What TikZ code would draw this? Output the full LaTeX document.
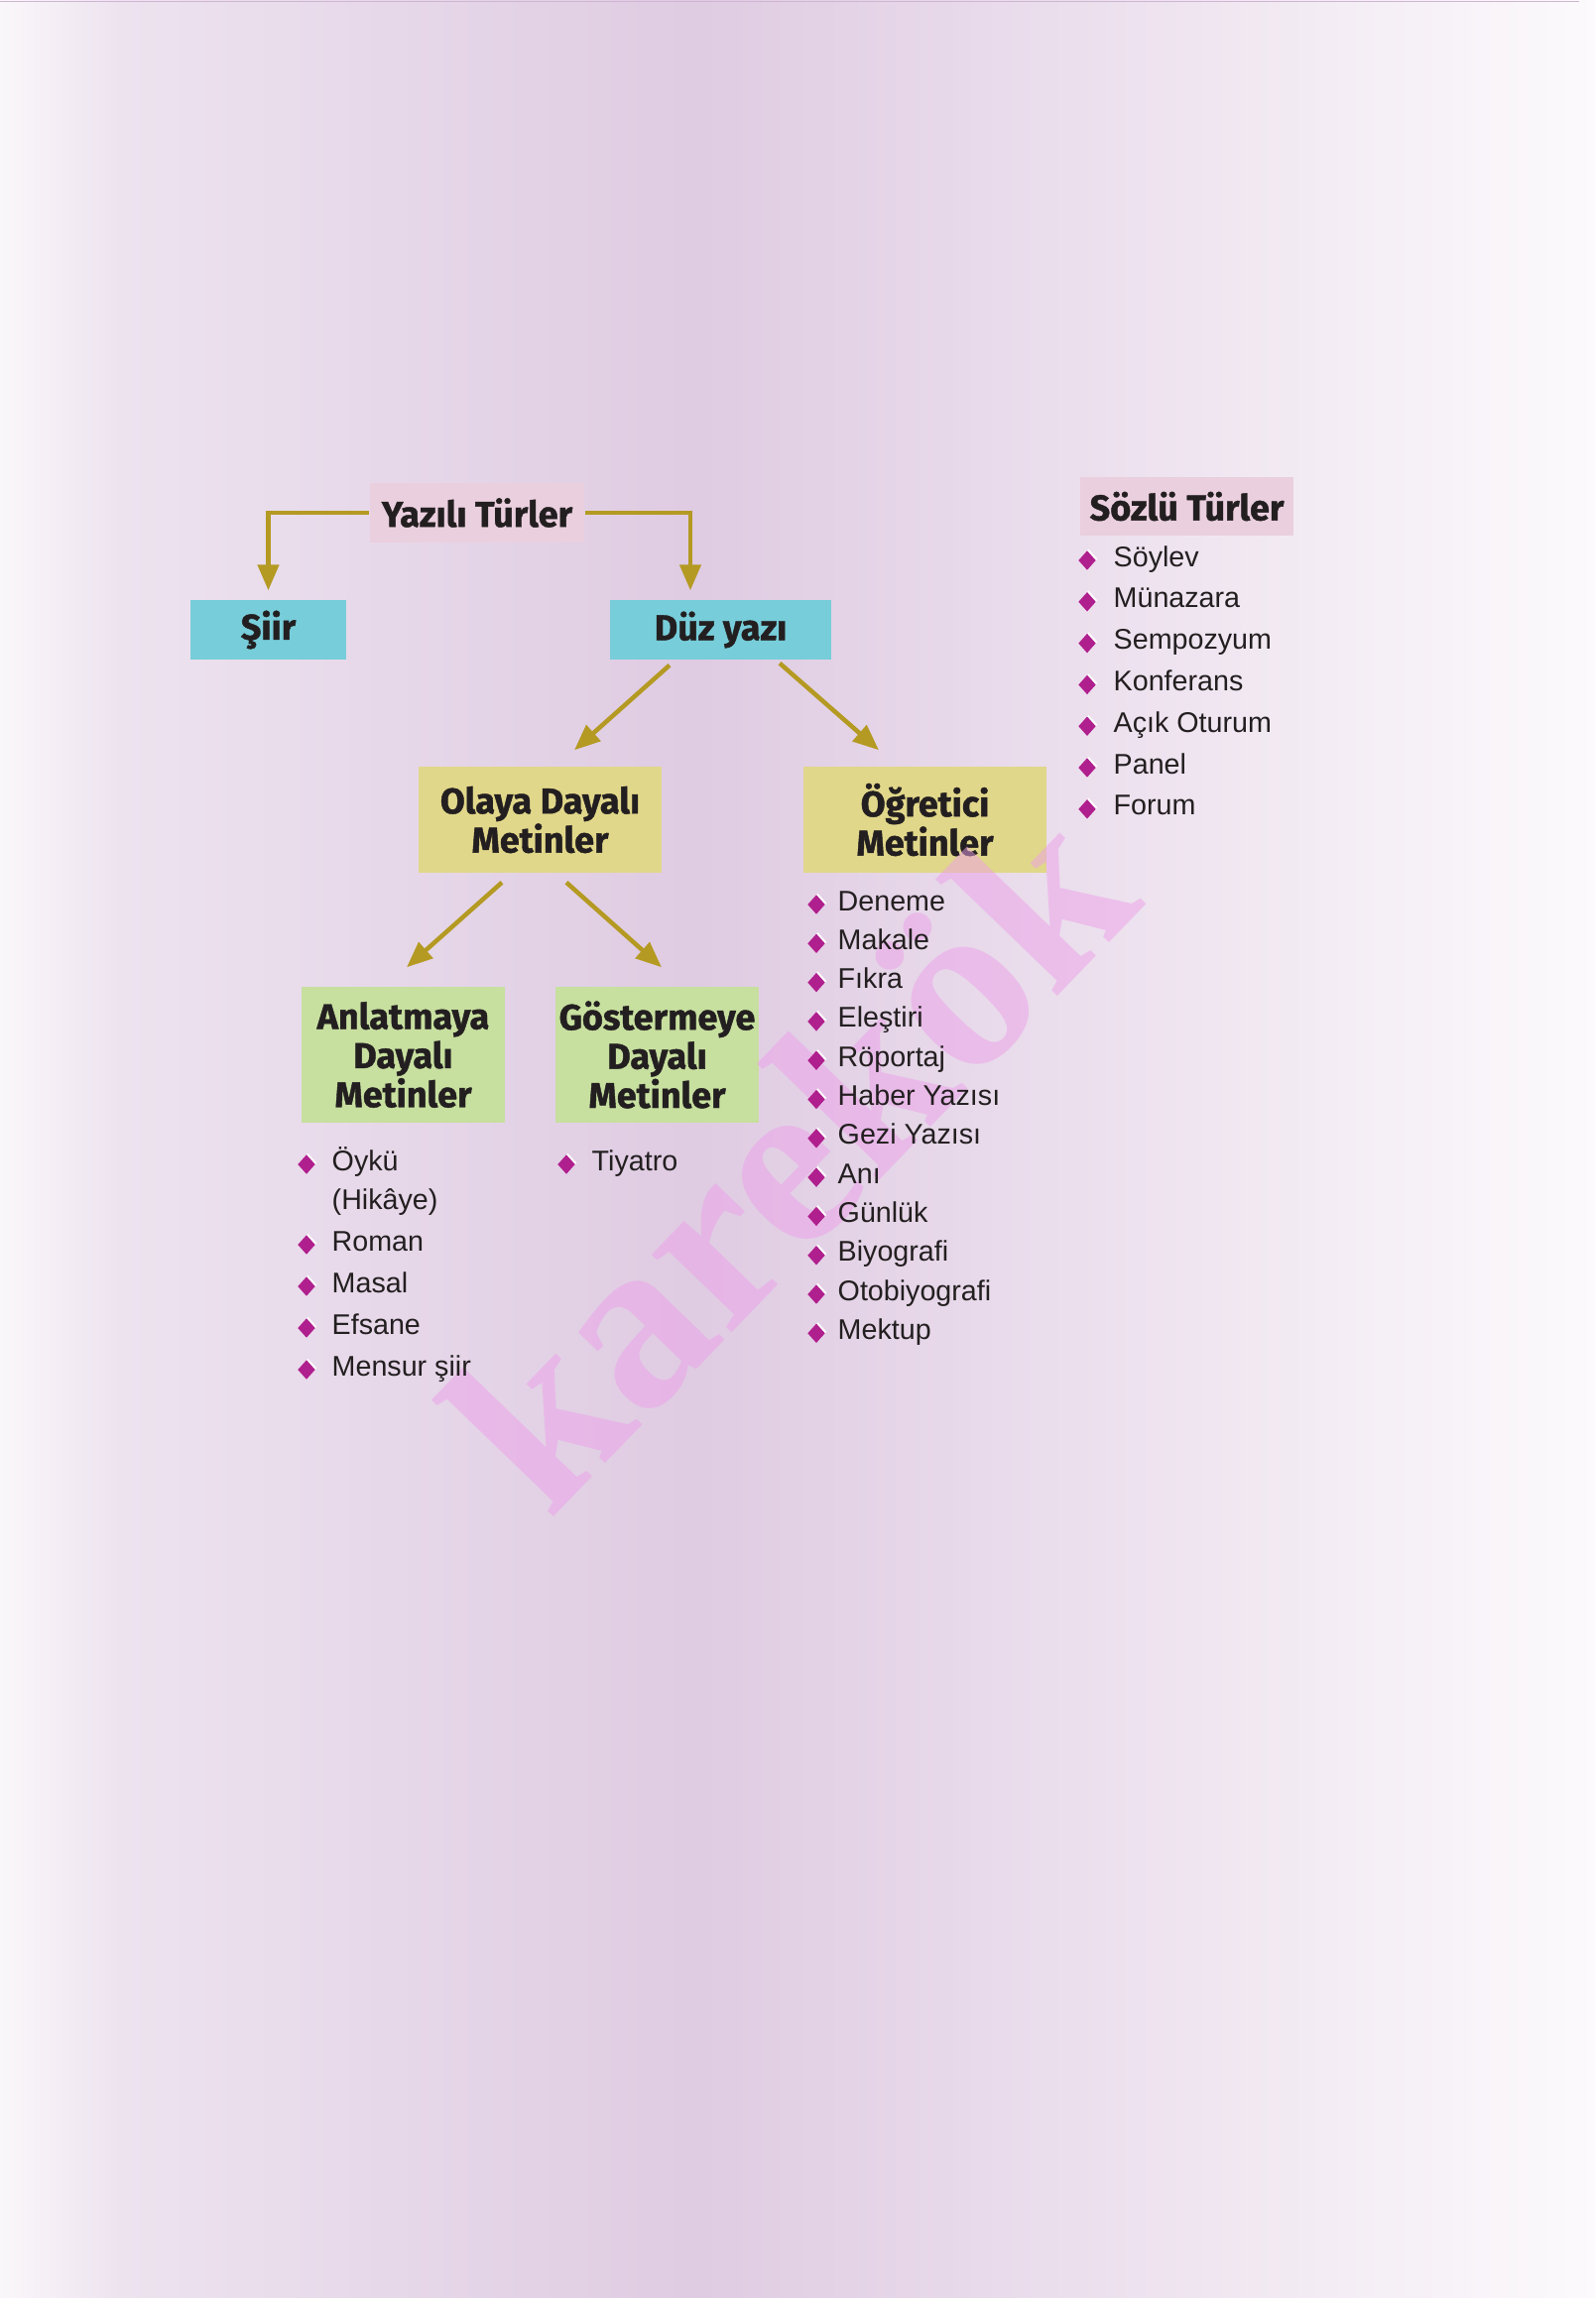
\documentclass[tikz,border=0pt]{standalone}
\usepackage{fontspec}
\setmainfont{Liberation Sans}
\newfontfamily\headfont[BoldFeatures={FakeBold=1.2}]{Fira Sans}
\newfontfamily\markfont{Liberation Serif}
\usetikzlibrary{shapes.geometric,arrows.meta}

\definecolor{arrowgold}{RGB}{180,154,34}
\definecolor{boxpink}{RGB}{234,207,222}
\definecolor{boxcyan}{RGB}{119,205,217}
\definecolor{boxyellow}{RGB}{225,215,138}
\definecolor{boxgreen}{RGB}{199,223,159}
\definecolor{dotpurple}{RGB}{176,31,142}
\definecolor{inkblack}{RGB}{35,31,32}
\definecolor{bgedge}{RGB}{250,247,250}
\definecolor{bgsoft}{RGB}{237,227,239}
\definecolor{bgmid}{RGB}{223,203,226}
\definecolor{bgright}{RGB}{252,250,252}
\definecolor{topline}{RGB}{208,180,212}
\definecolor{markpink}{RGB}{236,160,233}

% one list line: name, diamond x, text x, baseline, text
\newcommand{\listentry}[5]{%
  \node[dotmark, fill=white] (#1-h) at (#2+1.5,#4-7.5) {};
  \node[dotmark] (#1) at (#2,#4-6) {};
  \node[listtext] (#1-t) at (#3,#4) {#5};}

\begin{document}
\begin{tikzpicture}[x=0.01cm, y=-0.01cm, >={Triangle[length=0.26cm,width=0.21cm]},
    headbox/.style={inner sep=0pt, align=center, text=inkblack, font=\headfont\bfseries\fontsize{10.25}{11.2}\selectfont},
    link/.style={draw=arrowgold, line width=0.045cm, ->},
    dotmark/.style={diamond, fill=dotpurple, inner sep=0pt, minimum width=0.18cm, minimum height=0.2cm},
    listtext/.style={anchor=base west, inner sep=0pt, text=inkblack, font=\fontsize{8.15}{9.8}\selectfont},
    watermark/.style={inner sep=0pt, text=markpink, text opacity=0.5, font=\markfont\bfseries\fontsize{69.7}{70}\selectfont}]
    \useasboundingbox (0,0) rectangle (1608,2317);
    \shade[left color=bgedge, right color=bgsoft] (0,0) rectangle (121,2317); % page shading
    \shade[left color=bgsoft, right color=bgmid] (120,0) rectangle (701,2317);
    \shade[left color=bgmid, right color=bgright] (700,0) rectangle (1608,2317);
    \draw[topline, line width=0.015cm] (0,1.5) -- (1592,1.5); % top rule

    \node[headbox, fill=boxpink, minimum width=2.16cm, minimum height=0.59cm] (yazili) at (481,517) {Yazılı Türler};
    \node[headbox, fill=boxcyan, minimum width=1.57cm, minimum height=0.6cm] (siir) at (270.5,635) {Şiir};
    \node[headbox, fill=boxcyan, minimum width=2.23cm, minimum height=0.6cm] (duz) at (726.5,635) {Düz yazı};
    \node[headbox, fill=boxyellow, minimum width=2.45cm, minimum height=1.07cm] (olaya) at (544.5,826.5) {Olaya Dayalı\\Metinler};
    \node[headbox, fill=boxyellow, minimum width=2.45cm, minimum height=1.07cm] (ogretici) at (932.5,826.5) {Öğretici\\Metinler};
    \node[headbox, fill=boxgreen, minimum width=2.05cm, minimum height=1.37cm] (anlatma) at (406.5,1063.5) {Anlatmaya\\Dayalı\\Metinler};
    \node[headbox, fill=boxgreen, minimum width=2.05cm, minimum height=1.37cm] (gosterme) at (662.5,1063.5) {Göstermeye\\Dayalı\\Metinler};
    \node[headbox, fill=boxpink, minimum width=2.15cm, minimum height=0.59cm] (sozlu) at (1196.5,510.5) {Sözlü Türler};

    \draw[link, shorten >=0.09cm] (yazili.west) -| (siir.north); % yazili to siir
    \draw[link, shorten >=0.09cm] (yazili.east) -| ([xshift=-0.305cm]duz.north); % yazili to duz yazi
    \draw[link] ([xshift=-0.515cm,yshift=-0.05cm]duz.south) -- ([xshift=0.345cm,yshift=0.16cm]olaya.north); % duz to olaya
    \draw[link] ([xshift=0.595cm,yshift=-0.03cm]duz.south) -- ([xshift=-0.465cm,yshift=0.16cm]ogretici.north); % duz to ogretici
    \draw[link] ([xshift=-0.385cm,yshift=-0.09cm]olaya.south) -- ([xshift=0.035cm,yshift=0.19cm]anlatma.north); % olaya to anlatmaya
    \draw[link] ([xshift=0.265cm,yshift=-0.09cm]olaya.south) -- ([xshift=0.045cm,yshift=0.19cm]gosterme.north); % olaya to gostermeye

    \node[watermark, rotate=46, anchor=base] (wm) at (855,1223) {karekök}; % watermark

    \foreach \txt [count=\i] in {Söylev, Münazara, Sempozyum, Konferans, Açık Oturum, Panel, Forum} {
      \pgfmathsetmacro{\yy}{571+41.8*(\i-1)}
      \listentry{sozlu\i}{1096}{1122}{\yy}{\txt}
    } % sozlu list
    \foreach \txt [count=\i] in {Deneme, Makale, Fıkra, Eleştiri, Röportaj, Haber Yazısı, Gezi Yazısı, Anı, Günlük, Biyografi, Otobiyografi, Mektup} {
      \pgfmathsetmacro{\yy}{918+39.3*(\i-1)}
      \listentry{ogr\i}{823}{844}{\yy}{\txt}
    } % ogretici list
    \listentry{anl1}{309}{334}{1180}{Öykü}
    \node[listtext] (anl1-b) at (334,1219) {(Hikâye)};
    \listentry{anl2}{309}{334}{1261}{Roman}
    \listentry{anl3}{309}{334}{1303}{Masal}
    \listentry{anl4}{309}{334}{1345}{Efsane}
    \listentry{anl5}{309}{334}{1387}{Mensur şiir}
    \listentry{gos1}{571}{596}{1180}{Tiyatro}
\end{tikzpicture}
\end{document}
